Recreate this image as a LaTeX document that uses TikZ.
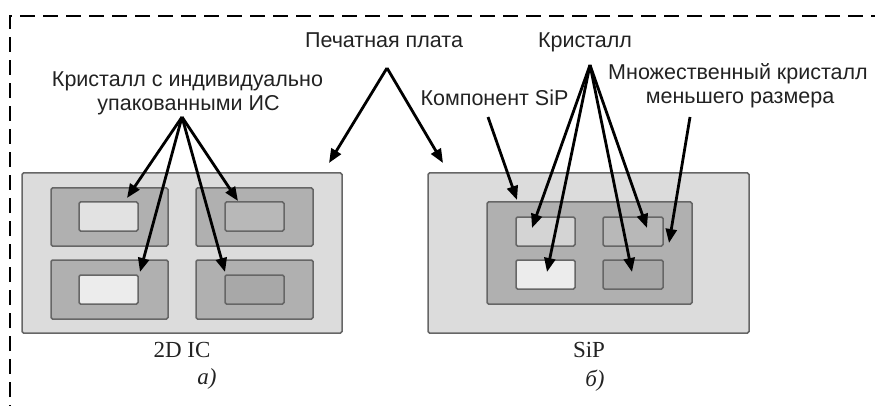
\documentclass[tikz,border=0pt]{standalone}
\usepackage{fontspec}
\setmainfont{Liberation Serif}
\setsansfont{Liberation Sans}
\usetikzlibrary{arrows.meta,calc}
\definecolor{boardfill}{HTML}{DCDCDC}
\definecolor{pkgfill}{HTML}{B0B0B0}
\definecolor{boxline}{HTML}{666666}
\definecolor{chipA}{HTML}{E2E2E2}
\definecolor{chipB}{HTML}{B8B8B8}
\definecolor{chipC}{HTML}{ECECEC}
\definecolor{chipD}{HTML}{A8A8A8}
\definecolor{chipE}{HTML}{D4D4D4}
\definecolor{txt}{HTML}{222222}
\begin{document}
\begin{tikzpicture}[x=1pt,y=-1pt,
  box/.style={draw=boxline, line width=1.5pt, rounded corners=1.5pt, inner sep=0pt, outer sep=0pt},
  lbl/.style={font=\sffamily\fontsize{21.5}{25}\selectfont, text=txt, inner sep=0pt, anchor=base},
  captext/.style={font=\rmfamily\fontsize{23}{26}\selectfont, text=txt, inner sep=0pt, anchor=base},
  arr/.style={-{Triangle[length=14pt,width=11pt]}, line width=2.8pt, black}]
\useasboundingbox (0,0) rectangle (875,406);
\draw[line width=2pt, dash pattern=on 15pt off 8pt] (10,420) -- (10,16) -- (890,16);

% 2D IC
\node[box, fill=boardfill, minimum width=320pt, minimum height=160pt] (b1) at (182,253) {};
\node[box, fill=pkgfill, minimum width=117pt, minimum height=58pt] (p1) at (109.5,217) {};
\node[box, fill=pkgfill, minimum width=117pt, minimum height=58pt] (p2) at (254.5,217) {};
\node[box, fill=pkgfill, minimum width=117pt, minimum height=59pt] (p3) at (109.5,289.5) {};
\node[box, fill=pkgfill, minimum width=117pt, minimum height=59pt] (p4) at (254.5,289.5) {};
\node[box, fill=chipA, minimum width=59pt, minimum height=29pt] (c1) at (108.5,216.5) {};
\node[box, fill=chipB, minimum width=59pt, minimum height=29pt] (c2) at (254.5,216.5) {};
\node[box, fill=chipC, minimum width=59pt, minimum height=29pt] (c3) at (108.5,289.5) {};
\node[box, fill=chipD, minimum width=59pt, minimum height=29pt] (c4) at (254.5,289.5) {};
\node[captext] (n2d) at (182,357) {2D IC};
\node[captext] (na) at (207,384) {\itshape a)};

% SiP
\node[box, fill=boardfill, minimum width=321pt, minimum height=160pt] (b2) at (588.5,253) {};
\node[box, fill=pkgfill, minimum width=205pt, minimum height=102pt] (m) at (589.5,253) {};
\node[box, fill=chipE, minimum width=59pt, minimum height=29pt] (d1) at (545.5,231.5) {};
\node[box, fill=chipB, minimum width=60pt, minimum height=29pt] (d2) at (633,231.5) {};
\node[box, fill=chipC, minimum width=59pt, minimum height=29pt] (d3) at (545.5,274.5) {};
\node[box, fill=chipD, minimum width=60pt, minimum height=29pt] (d4) at (633,274.5) {};
\node[captext] (nsip) at (589,357) {SiP};
\node[captext] (nb) at (595,386) {\itshape б)};

% labels
\node[lbl] (lpp) at (384,48) {Печатная плата};
\node[lbl] (lk1a) at (187.5,87) {Кристалл с индивидуально};
\node[lbl] (lk1b) at (188.5,111) {упакованными ИС};
\node[lbl] (lk2) at (585,48) {Кристалл};
\node[lbl] (lcs) at (494.5,106) {Компонент SiP};
\node[lbl] (lmka) at (738,80) {Множественный кристалл};
\node[lbl] (lmkb) at (740,104) {меньшего размера};

% apex coordinates
\coordinate (A) at (182,117);
\coordinate (P) at (387,68);
\coordinate (K) at (590,65);
\coordinate (Cs) at (488,117);
\coordinate (Mk) at (690,117);

% arrows 2D IC
\draw[arr] (A) -- ($(c1.north east)+(-11,-4)$);
\draw[arr] (A) -- ($(c3.north east)+(2,-3)$);
\draw[arr] (A) -- ($(c4.north west)+(0,-3)$);
\draw[arr] (A) -- ($(c2.north west)+(13,-1)$);
% Печатная плата
\draw[arr] (P) -- ($(b1.north east)+(-13,-10)$);
\draw[arr] (P) -- ($(b2.north west)+(15,-10)$);
% Кристалл SiP
\draw[arr] (K) -- ($(d1)+(-13.5,-3.5)$);
\draw[arr] (K) -- ($(d3.north)+(1.5,12)$);
\draw[arr] (K) -- ($(d4.north)+(-1,12)$);
\draw[arr] (K) -- ($(d2)+(14,-3.5)$);
% Компонент SiP
\draw[arr] (Cs) -- ($(m.north west)+(30,-2)$);
% Множественный
\draw[arr] (Mk) -- ($(m.east)+(-23,-10)$);
\end{tikzpicture}
\end{document}
